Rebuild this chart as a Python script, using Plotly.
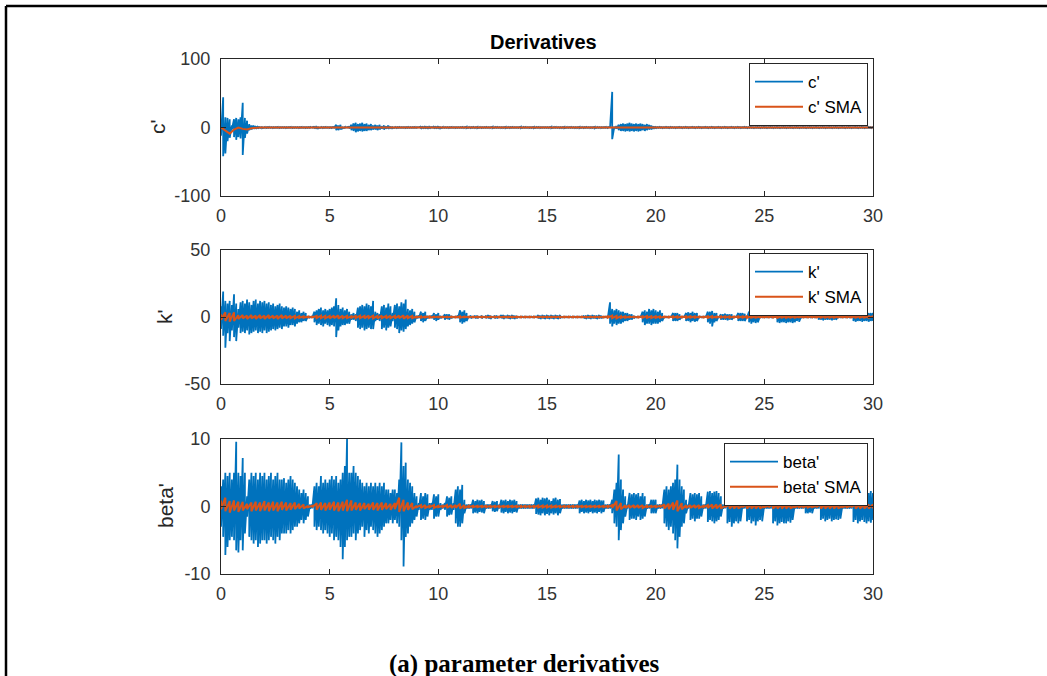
import numpy as np
import plotly.graph_objects as go

# ---- sample times -------------------------------------------------------
T_END = 30.0
N_FAST = 301   # raw derivative envelopes, 0.1 s step
N_SMA = 151    # moving-average envelopes, 0.2 s step

# ---- c' : upper / lower envelope of the raw derivative (0.1 s step) ----
c_up = [
    8, 44, 15, 14, 12, 3, 12, 14, 12, 15,
    36, 14, 10, 5, 3, 3, 2, 2, 1, 1,
    0.5, 0.4, 0.6, 0.5, 0.4, 0.5, 0.6, 0.4, 0.5, 0.5,
    0.4, 0.5, 0.6, 0.4, 0.5, 0.5, 0.4, 0.6, 0.5, 0.4,
    0.5, 0.6, 0.4, 1.5, 2, 1, 0.5, 0.4, 0.6, 0.5,
    0.4, 0.5, 1, 4, 3, 4, 1, 0.6, 0.5, 1.5,
    4, 6, 7, 5, 6, 7, 5, 6, 4, 5,
    3, 4, 3, 4, 2, 3, 2, 3, 1.5, 1,
    0.5, 0.4, 0.6, 0.5, 0.5, 0.4, 0.6, 0.5, 0.5, 0.6,
    0.5, 0.5, 2, 1.5, 2, 1.5, 2, 1, 2, 1.5,
    2, 1, 0.6, 0.5, 0.5, 0.4, 0.6, 0.5, 0.4, 0.5,
    0.5, 0.6, 0.4, 1, 0.5, 0.4, 0.6, 0.5, 1, 0.5,
    0.4, 0.5, 0.6, 0.5, 0.4, 1, 0.5, 0.6, 0.5, 0.4,
    0.5, 1, 0.5, 0.4, 0.6, 0.5, 0.5, 0.4, 1, 0.5,
    0.6, 0.5, 0.4, 0.5, 1, 0.5, 0.6, 0.4, 0.5, 0.5,
    0.5, 0.4, 1, 0.5, 0.6, 0.5, 0.4, 0.5, 1, 0.5,
    0.5, 0.6, 0.5, 0.4, 0.5, 1, 0.5, 0.4, 0.6, 0.5,
    0.4, 0.5, 1, 0.6, 0.5, 0.4, 0.5, 0.6, 0.5, 1,
    52, 1.5, 2, 4, 5, 6, 5, 6, 7, 6,
    5, 6, 5, 6, 5, 4, 5, 4, 3, 2,
    1.5, 1, 1.5, 1, 1, 1.5, 1, 1.5, 1, 1,
    1, 1.5, 1, 1, 1.5, 1, 1, 1.5, 1, 1,
    1.5, 1, 1, 1.5, 1, 1, 1.5, 1, 1, 1.5,
    1, 1, 1.5, 1, 1, 1.5, 1, 1, 1.5, 1,
    1, 1.5, 1, 1, 1.5, 1, 1, 1.5, 1, 1,
    1.5, 1, 1, 1.5, 1, 1, 1.5, 1, 1, 1.5,
    1, 1, 1.5, 1, 1, 1.5, 1, 1, 1.5, 1,
    1, 1.5, 1, 1, 1.5, 1, 1, 1.5, 1, 1,
    1.5, 1, 1, 1.5, 1, 1, 1.5, 1, 1, 1.5,
    1, 1, 1.5, 1, 1, 1.5, 1, 1, 1.5, 1,
    1,
]
c_lo = [
    -12, -42, -38, -20, -15, -3, -14, -18, -14, -16,
    -40, -15, -9, -4, -3, -2, -2, -1.5, -1, -1,
    -0.5, -0.6, -0.4, -0.5, -0.6, -0.5, -0.4, -0.6, -0.5, -0.5,
    -0.6, -0.5, -0.4, -0.6, -0.5, -0.5, -0.6, -0.4, -0.5, -0.6,
    -0.5, -0.4, -0.6, -1.5, -2, -1, -0.5, -0.6, -0.4, -0.5,
    -0.6, -0.5, -1, -4, -4, -3, -1, -0.4, -0.5, -1.5,
    -4, -5, -7, -6, -5, -6, -5, -5, -4, -4,
    -3, -3, -4, -3, -2, -3, -2, -2, -1.5, -1,
    -0.5, -0.6, -0.4, -0.5, -0.5, -0.6, -0.4, -0.5, -0.5, -0.4,
    -0.5, -0.5, -2, -1.5, -1.5, -2, -1.5, -1, -1.5, -1.5,
    -1.5, -1, -0.4, -0.5, -0.5, -0.6, -0.4, -0.5, -0.6, -0.5,
    -0.5, -0.4, -0.6, -1, -0.5, -0.6, -0.4, -0.5, -1, -0.5,
    -0.6, -0.5, -0.4, -0.5, -0.6, -1, -0.5, -0.4, -0.5, -0.6,
    -0.5, -1, -0.5, -0.6, -0.4, -0.5, -0.5, -0.6, -1, -0.5,
    -0.4, -0.5, -0.6, -0.5, -1, -0.5, -0.4, -0.6, -0.5, -0.5,
    -0.5, -0.6, -1, -0.5, -0.4, -0.5, -0.6, -0.5, -1, -0.5,
    -0.5, -0.4, -0.5, -0.6, -0.5, -1, -0.5, -0.6, -0.4, -0.5,
    -0.6, -0.5, -1, -0.4, -0.5, -0.6, -0.5, -0.4, -0.5, -1,
    -17, -1.5, -2, -4, -5, -5, -6, -5, -6, -5,
    -6, -5, -6, -5, -4, -5, -4, -3, -3, -2,
    -1.5, -1, -1, -1.5, -1, -1, -1.5, -1, -1, -1.5,
    -1, -1, -1.5, -1, -1, -1.5, -1, -1, -1.5, -1,
    -1, -1.5, -1, -1, -1.5, -1, -1, -1.5, -1, -1,
    -1.5, -1, -1, -1.5, -1, -1, -1.5, -1, -1, -1.5,
    -1, -1, -1.5, -1, -1, -1.5, -1, -1, -1.5, -1,
    -1, -1.5, -1, -1, -1.5, -1, -1, -1.5, -1, -1,
    -1.5, -1, -1, -1.5, -1, -1, -1.5, -1, -1, -1.5,
    -1, -1, -1.5, -1, -1, -1.5, -1, -1, -1.5, -1,
    -1, -1.5, -1, -1, -1.5, -1, -1, -1.5, -1, -1,
    -1.5, -1, -1, -1.5, -1, -1, -1.5, -1, -1, -1.5,
    -1,
]

# ---- k' : upper / lower envelope (0.1 s step) ---------------------------
k_up = [
    8, 19, 12, 10, 12, 9, 17, 10, 6, 11,
    12, 10, 13, 11, 9, 12, 13, 10, 12, 11,
    12, 10, 11, 9, 10, 8, 9, 10, 8, 7,
    8, 7, 6, 7, 6, 4, 5, 3, 4, 3,
    0.5, 0.6, 0.5, 4, 5, 6, 7, 5, 6, 5,
    6, 7, 8, 14, 9, 6, 7, 5, 6, 4,
    2, 3, 2, 7, 8, 9, 8, 10, 9, 8,
    12, 4, 3, 2, 8, 9, 7, 10, 8, 3,
    9, 10, 8, 11, 10, 13, 6, 5, 6, 4,
    1, 1, 4, 3, 4, 1, 0.5, 1, 3, 2,
    3, 1, 0.5, 2, 2, 2, 1, 0.5, 0.5, 1,
    5, 4, 5, 3, 0.5, 1, 0.5, 1, 1, 0.5,
    1, 0.5, 1, 1.5, 1, 0.5, 1, 1, 0.5, 1.5,
    1.5, 1, 1.5, 1, 1.5, 1, 1, 0.5, 0.5, 0.5,
    0.5, 0.5, 0.5, 0.5, 0.5, 0.5, 1.5, 1, 1.5, 1,
    1.5, 1, 1.5, 1, 1.5, 1, 1.5, 0.5, 0.5, 0.5,
    0.5, 0.5, 0.5, 0.5, 0.5, 0.5, 0.5, 1, 1, 1.5,
    1, 1.5, 1, 1, 1.5, 1, 0.5, 0.5, 0.5, 11,
    6, 5, 6, 5, 4, 4, 3, 3, 2, 2,
    1, 0.5, 0.5, 0.5, 4, 5, 4, 6, 5, 6,
    5, 4, 5, 3, 0.5, 0.5, 0.5, 0.5, 3, 3,
    3, 2, 0.5, 0.5, 3, 3.5, 3, 4, 3, 3,
    0.5, 0.5, 0.5, 0.5, 4, 4, 4.5, 3, 3, 0.5,
    2, 2, 2.5, 2, 2, 2, 0.5, 0.5, 3, 3,
    3, 2.5, 0.5, 4, 4, 4.5, 4, 4, 0.5, 0.5,
    0.5, 0.5, 0.5, 0.5, 0.5, 0.5, 4, 4, 4.5, 4,
    4, 4.5, 4, 4, 3.5, 3, 4, 0.5, 0.5, 0.5,
    0.5, 0.5, 0.5, 0.5, 0.5, 2, 2.5, 2, 2, 2,
    2.5, 2, 2, 2, 0.5, 0.5, 0.5, 0.5, 0.5, 0.5,
    0.5, 3, 3, 3.5, 3, 3, 3.5, 3, 3, 3,
    3,
]
k_lo = [
    -9, -14, -23, -12, -18, -10, -15, -18, -8, -12,
    -11, -12, -10, -13, -12, -11, -10, -12, -11, -12,
    -10, -12, -11, -10, -9, -10, -9, -8, -9, -7,
    -7, -8, -6, -6, -7, -5, -4, -4, -3, -3,
    -0.5, -0.4, -0.5, -4, -6, -5, -6, -7, -5, -6,
    -7, -6, -7, -15, -10, -7, -6, -6, -5, -5,
    -2, -2, -3, -8, -9, -8, -10, -9, -8, -9,
    -9, -3, -2, -3, -9, -8, -10, -8, -7, -3,
    -8, -9, -12, -10, -11, -9, -7, -6, -5, -4,
    -1, -1, -3, -4, -3, -1, -0.5, -1, -2, -3,
    -2, -1, -0.5, -2, -1.5, -2, -1, -0.5, -0.5, -1,
    -4, -5, -4, -3, -0.5, -1, -0.5, -1, -1, -0.5,
    -1, -0.5, -1, -1, -1.5, -0.5, -1, -1, -0.5, -1,
    -1.5, -1, -1, -1.5, -1, -1.5, -1, -0.5, -0.5, -0.5,
    -0.5, -0.5, -0.5, -0.5, -0.5, -0.5, -1, -1.5, -1, -1.5,
    -1, -1.5, -1, -1.5, -1, -1.5, -1, -0.5, -0.5, -0.5,
    -0.5, -0.5, -0.5, -0.5, -0.5, -0.5, -0.5, -1, -1.5, -1,
    -1.5, -1, -1, -1.5, -1, -1, -0.5, -0.5, -0.5, -5,
    -7, -5, -6, -5, -5, -4, -3, -3, -2, -2,
    -1, -0.5, -0.5, -0.5, -4, -6, -5, -5, -6, -5,
    -5, -5, -4, -3, -0.5, -0.5, -0.5, -0.5, -3, -3,
    -3, -2, -0.5, -0.5, -3, -3, -4, -3, -3.5, -3,
    -0.5, -0.5, -0.5, -0.5, -4, -5, -7, -4, -3, -0.5,
    -2, -2, -2, -2.5, -2, -2, -0.5, -0.5, -3, -3,
    -3, -3, -0.5, -4, -5, -4, -4.5, -4, -0.5, -0.5,
    -0.5, -0.5, -0.5, -0.5, -0.5, -0.5, -4, -4.5, -4, -4,
    -4.5, -4, -4, -4.5, -4, -3, -3.5, -0.5, -0.5, -0.5,
    -0.5, -0.5, -0.5, -0.5, -0.5, -2, -2, -2.5, -2, -2,
    -2, -2.5, -2, -2, -0.5, -0.5, -0.5, -0.5, -0.5, -0.5,
    -0.5, -3, -3.5, -3, -3, -3.5, -3, -3, -3.5, -3,
    -3,
]

# ---- beta' : upper / lower envelope (0.1 s step) ------------------------
b_up = [
    3, 4, 5, 4.5, 5, 4, 5, 9.6, 5, 4.5,
    7.2, 5, 1.5, 4, 5, 4.5, 5, 4, 5, 4.5,
    5, 4, 4.5, 5, 4, 4.5, 5, 4, 4, 4.2,
    3.5, 4, 4.5, 4, 3.5, 3, 2.5, 2, 2.5, 2,
    1.5, 0.3, 0.3, 3, 3.5, 3, 4.5, 3.5, 4, 3.5,
    4, 4.5, 4, 4.5, 3.5, 4, 5, 6, 10, 5,
    5, 6, 5, 4.5, 4, 3.5, 3, 3.5, 3, 3.5,
    3, 3.5, 3, 3.5, 3, 3.5, 2.5, 2.5, 2, 2.5,
    2.5, 2, 4, 9.5, 6, 6.5, 4, 3.5, 3, 2,
    1.5, 0.5, 2, 1.5, 2, 1.8, 0.5, 0.5, 1.8, 1.5,
    1.8, 0.5, 0.3, 0.5, 1.5, 1.3, 1.5, 0.5, 2.5, 3,
    2.5, 3.2, 1, 0.3, 0.3, 0.3, 1, 0.8, 1, 0.9,
    1, 0.8, 0.3, 0.3, 0.3, 0.8, 0.7, 0.8, 0.3, 1,
    0.9, 1, 0.8, 1, 0.9, 1, 0.8, 0.3, 0.3, 0.3,
    0.3, 0.3, 0.3, 0.3, 0.3, 1.2, 1.3, 1, 1.3, 1.2,
    1.3, 1, 0.8, 1.2, 1.3, 1, 1.1, 0.3, 0.3, 0.3,
    0.3, 0.3, 0.3, 0.3, 0.3, 0.9, 1, 0.8, 1, 0.9,
    1, 0.8, 1, 0.9, 1, 0.9, 0.9, 0.3, 0.3, 0.3,
    1, 2.5, 3.5, 7.7, 4, 2.5, 1.5, 0.3, 2, 1.8,
    2, 1.8, 2, 1.5, 2, 1.5, 0.3, 0.3, 1, 1,
    1, 0.3, 0.3, 0.3, 2.5, 3, 2.5, 3, 3.5, 4,
    6.2, 4, 3, 2.5, 1, 0.3, 2, 1.8, 2, 1.8,
    2, 1.5, 0.3, 0.3, 2.2, 2.3, 2, 2.2, 2.3, 2,
    1.5, 0.3, 0.3, 2.5, 2.2, 2.5, 2, 2.4, 2.5, 2.2,
    0.3, 0.3, 2, 2.2, 2, 2.2, 2.1, 2, 2.2, 2,
    0.3, 0.3, 0.3, 0.3, 2.3, 2.5, 2.2, 2.5, 2.4, 2.5,
    2.2, 2.5, 2.3, 2.2, 0.3, 0.3, 0.3, 0.3, 0.3, 1,
    1, 1, 0.9, 0.3, 0.3, 0.3, 1.8, 2, 1.8, 2,
    2, 1.9, 2, 1.8, 2, 2, 0.3, 0.3, 0.3, 0.3,
    0.3, 2, 2.2, 2.3, 2, 2.2, 2.3, 2.2, 2, 2.3,
    2,
]
b_lo = [
    -3, -4.5, -7.2, -6, -5, -4.5, -5, -6.5, -6.8, -5,
    -6.5, -4, -1.5, -4.5, -5, -5.5, -5, -6, -5.5, -5,
    -5, -5.5, -5, -4.5, -5, -5.5, -4.5, -5, -4, -4,
    -4, -3.5, -4, -3.5, -3, -3, -2.5, -2, -2.5, -2,
    -1.5, -0.3, -0.3, -3, -3.5, -3, -3.5, -4, -3.5, -4,
    -4.5, -4, -5, -4.5, -5, -6, -7.8, -6, -5, -4.5,
    -4.5, -4, -5, -4, -3.5, -3, -4.5, -3.5, -4, -3,
    -3.5, -4, -4.5, -4, -3.5, -3, -2.5, -2.5, -2, -2.5,
    -2, -2.5, -3, -5, -8.9, -4.5, -4, -3, -2.5, -2,
    -1.5, -0.5, -2, -1.8, -2, -1.5, -0.5, -0.5, -1.8, -1.5,
    -1.5, -0.5, -0.3, -0.5, -1.5, -1.3, -1.2, -0.5, -2.5, -3,
    -3, -2.5, -1, -0.3, -0.3, -0.3, -1, -0.9, -1, -0.8,
    -0.9, -1, -0.3, -0.3, -0.3, -0.7, -0.8, -0.7, -0.3, -0.9,
    -1, -0.8, -1, -0.9, -1, -0.8, -0.9, -0.3, -0.3, -0.3,
    -0.3, -0.3, -0.3, -0.3, -0.3, -1.1, -1.2, -1.3, -1, -1.3,
    -1.1, -1.3, -1, -1.2, -1, -1.3, -1, -0.3, -0.3, -0.3,
    -0.3, -0.3, -0.3, -0.3, -0.3, -1, -0.8, -1, -0.9, -1,
    -0.8, -1, -0.9, -1, -0.8, -1, -0.8, -0.3, -0.3, -0.3,
    -1, -2.5, -3, -5, -3.5, -2.5, -1.5, -0.3, -2, -1.8,
    -1.8, -2, -1.5, -2, -1.8, -1.5, -0.3, -0.3, -1, -1,
    -1, -0.3, -0.3, -0.3, -2.5, -3, -3.5, -3, -4, -5,
    -6.2, -4.5, -3, -2.5, -1, -0.3, -2, -1.8, -2.2, -1.8,
    -1.8, -1.5, -0.3, -0.3, -2.3, -2, -2.2, -2.5, -2.2, -2,
    -1.5, -0.3, -0.3, -2.5, -2.3, -3, -2.5, -2.2, -2.5, -2.2,
    -0.3, -0.3, -2.2, -2, -2.5, -2.2, -2.8, -2.2, -2, -2.2,
    -0.3, -0.3, -0.3, -0.3, -2.5, -2.2, -2.8, -2.5, -2.3, -2.5,
    -2.5, -2.2, -2.4, -2, -0.3, -0.3, -0.3, -0.3, -0.3, -1,
    -1, -0.9, -1, -0.3, -0.3, -0.3, -2, -1.8, -2.2, -2,
    -1.8, -2.2, -2, -1.9, -2, -1.8, -0.3, -0.3, -0.3, -0.3,
    -0.3, -2.3, -2, -2.5, -2.2, -2, -2.3, -2.5, -2.2, -2.4,
    -2,
]

# ---- simple moving averages (0.2 s step) --------------------------------
c_sma = [
    0, -5, -9, -3, 0,
    -2, -3, -1, 0, 0,
    0, 0, 0, 0, 0,
    0, 0, 0, 0, 0,
    0, 0, 0, 0, 0,
    0, 0, 0, 0, 0,
    0, 0, 0, 0, 0,
    0, 0, 0, 0, 0,
    0, 0, 0, 0, 0,
    0, 0, 0, 0, 0,
    0, 0, 0, 0, 0,
    0, 0, 0, 0, 0,
    0, 0, 0, 0, 0,
    0, 0, 0, 0, 0,
    0, 0, 0, 0, 0,
    0, 0, 0, 0, 0,
    0, 0, 0, 0, 0,
    0, 0, 0, 0, 0,
    0, 0, 0, 0, 0,
    0, 0, 0, 0, 0,
    0, 0, 0, 0, 0,
    0, 0, 0, 0, 0,
    0, 0, 0, 0, 0,
    0, 0, 0, 0, 0,
    0, 0, 0, 0, 0,
    0, 0, 0, 0, 0,
    0, 0, 0, 0, 0,
    0, 0, 0, 0, 0,
    0, 0, 0, 0, 0,
    0, 0, 0, 0, 0,
    0,
]
k_sma_up = [
    2, 3.5, 3, 3.5, 1.5,
    1.5, 1, 1.5, 1, 1.5,
    1, 1.5, 1, 1, 1.5,
    1, 1, 0.8, 0.6, 0.5,
    0.3, 0.3, 0.8, 1, 0.8,
    0.8, 1, 1.2, 1, 0.8,
    0.5, 0.8, 1, 0.8, 1,
    1, 0.8, 1, 0.8, 1,
    0.8, 1, 1.2, 1, 0.8,
    0.3, 0.5, 0.3, 0.5, 0.3,
    0.3, 0.3, 0.3, 0.3, 0.3,
    0.5, 0.3, 0.3, 0.3, 0.3,
    0.3, 0.3, 0.3, 0.3, 0.3,
    0.3, 0.3, 0.3, 0.3, 0.3,
    0.3, 0.3, 0.3, 0.3, 0.3,
    0.3, 0.3, 0.3, 0.3, 0.3,
    0.3, 0.3, 0.3, 0.3, 0.3,
    0.3, 0.3, 0.3, 0.3, 0.5,
    1, 0.8, 0.6, 0.5, 0.3,
    0.3, 0.3, 0.6, 0.8, 0.6,
    0.6, 0.5, 0.3, 0.3, 0.5,
    0.5, 0.3, 0.5, 0.6, 0.5,
    0.3, 0.3, 0.6, 0.6, 0.3,
    0.5, 0.5, 0.5, 0.3, 0.5,
    0.5, 0.6, 0.6, 0.6, 0.3,
    0.3, 0.3, 0.3, 0.6, 0.6,
    0.6, 0.6, 0.5, 0.3, 0.3,
    0.3, 0.3, 0.3, 0.5, 0.5,
    0.5, 0.5, 0.3, 0.3, 0.3,
    0.3, 0.5, 0.5, 0.5, 0.5,
    0.5,
]
k_sma_lo = [
    -2, -3, -3.5, -3, -1.5,
    -1, -1.5, -1, -1.5, -1,
    -1.5, -1, -1, -1.5, -1,
    -1, -0.8, -1, -0.6, -0.5,
    -0.3, -0.3, -0.8, -0.8, -1,
    -1, -0.8, -1.2, -0.8, -0.8,
    -0.5, -0.8, -0.8, -1, -0.8,
    -1, -1, -0.8, -1, -0.8,
    -1, -0.8, -1.2, -0.8, -0.8,
    -0.3, -0.5, -0.3, -0.5, -0.3,
    -0.3, -0.3, -0.3, -0.3, -0.3,
    -0.5, -0.3, -0.3, -0.3, -0.3,
    -0.3, -0.3, -0.3, -0.3, -0.3,
    -0.3, -0.3, -0.3, -0.3, -0.3,
    -0.3, -0.3, -0.3, -0.3, -0.3,
    -0.3, -0.3, -0.3, -0.3, -0.3,
    -0.3, -0.3, -0.3, -0.3, -0.3,
    -0.3, -0.3, -0.3, -0.3, -0.5,
    -0.8, -1, -0.6, -0.5, -0.3,
    -0.3, -0.3, -0.6, -0.6, -0.8,
    -0.6, -0.5, -0.3, -0.3, -0.5,
    -0.5, -0.3, -0.6, -0.5, -0.5,
    -0.3, -0.3, -0.6, -0.5, -0.3,
    -0.5, -0.5, -0.5, -0.3, -0.5,
    -0.5, -0.6, -0.5, -0.6, -0.3,
    -0.3, -0.3, -0.3, -0.6, -0.5,
    -0.6, -0.5, -0.6, -0.3, -0.3,
    -0.3, -0.3, -0.3, -0.5, -0.5,
    -0.5, -0.5, -0.3, -0.3, -0.3,
    -0.3, -0.5, -0.5, -0.5, -0.5,
    -0.5,
]
b_sma_up = [
    0.9, 1.3, 0.8, 0.9, 0.7,
    0.7, 0.4, 0.6, 0.7, 0.6,
    0.8, 0.6, 0.7, 0.6, 0.7,
    0.6, 0.5, 0.6, 0.4, 0.3,
    0.1, 0.1, 0.5, 0.6, 0.5,
    0.6, 0.7, 0.6, 0.7, 1.0,
    0.9, 0.6, 0.5, 0.5, 0.4,
    0.6, 0.5, 0.6, 0.5, 0.4,
    0.5, 1.3, 1.0, 0.6, 0.5,
    0.1, 0.2, 0.2, 0.1, 0.2,
    0.1, 0.1, 0.2, 0.2, 0.2,
    0.4, 0.2, 0.1, 0.1, 0.1,
    0.1, 0.1, 0.1, 0.1, 0.1,
    0.1, 0.1, 0.1, 0.1, 0.1,
    0.1, 0.1, 0.1, 0.15, 0.15,
    0.15, 0.15, 0.1, 0.1, 0.1,
    0.1, 0.1, 0.1, 0.1, 0.1,
    0.1, 0.1, 0.1, 0.1, 0.1,
    0.2, 0.8, 0.5, 0.2, 0.2,
    0.2, 0.2, 0.2, 0.1, 0.1,
    0.1, 0.1, 0.3, 0.4, 0.6,
    0.9, 0.5, 0.2, 0.2, 0.2,
    0.2, 0.1, 0.2, 0.3, 0.3,
    0.3, 0.1, 0.3, 0.3, 0.3,
    0.1, 0.3, 0.3, 0.3, 0.3,
    0.1, 0.1, 0.3, 0.3, 0.3,
    0.3, 0.3, 0.1, 0.1, 0.1,
    0.15, 0.1, 0.1, 0.3, 0.3,
    0.3, 0.3, 0.3, 0.1, 0.1,
    0.1, 0.3, 0.3, 0.3, 0.3,
    0.3,
]
b_sma_lo = [
    -0.4, -0.7, -0.9, -0.6, -0.8,
    -0.6, -0.4, -0.7, -0.6, -0.7,
    -0.6, -0.7, -0.6, -0.7, -0.5,
    -0.6, -0.5, -0.4, -0.3, -0.3,
    -0.1, -0.1, -0.5, -0.5, -0.6,
    -0.5, -0.6, -0.7, -0.6, -0.7,
    -0.6, -0.5, -0.6, -0.4, -0.5,
    -0.5, -0.6, -0.5, -0.4, -0.5,
    -0.4, -0.8, -0.7, -0.5, -0.4,
    -0.1, -0.2, -0.2, -0.1, -0.2,
    -0.1, -0.1, -0.2, -0.2, -0.2,
    -0.3, -0.2, -0.1, -0.1, -0.1,
    -0.1, -0.1, -0.1, -0.1, -0.1,
    -0.1, -0.1, -0.1, -0.1, -0.1,
    -0.1, -0.1, -0.1, -0.15, -0.15,
    -0.15, -0.15, -0.1, -0.1, -0.1,
    -0.1, -0.1, -0.1, -0.1, -0.1,
    -0.1, -0.1, -0.1, -0.1, -0.1,
    -0.2, -0.6, -0.4, -0.2, -0.2,
    -0.2, -0.2, -0.2, -0.1, -0.1,
    -0.1, -0.1, -0.3, -0.4, -0.5,
    -0.7, -0.4, -0.2, -0.2, -0.2,
    -0.2, -0.1, -0.2, -0.3, -0.3,
    -0.3, -0.1, -0.3, -0.3, -0.3,
    -0.1, -0.3, -0.3, -0.3, -0.3,
    -0.1, -0.1, -0.3, -0.3, -0.3,
    -0.3, -0.3, -0.1, -0.1, -0.1,
    -0.15, -0.1, -0.1, -0.3, -0.3,
    -0.3, -0.3, -0.3, -0.1, -0.1,
    -0.1, -0.3, -0.3, -0.3, -0.3,
    -0.3,
]

# ---- axis / label text --------------------------------------------------
panel_names = ["c'", "k'", "beta'"]
y_limits = [(-100, 100), (-50, 50), (-10, 10)]
y_ticks = [[-100, 0, 100], [-50, 0, 50], [-10, 0, 10]]
y_ticktext = [["-100", "0", "100"], ["-50", "0", "50"], ["-10", "0", "10"]]
x_ticks = [0, 5, 10, 15, 20, 25, 30]
x_ticktext = ["0", "5", "10", "15", "20", "25", "30"]
fig_title = "Derivatives"
caption = "(a) parameter derivatives"

BLUE = "#0072BD"
ORANGE = "#D95319"
AXC = "#262626"
SANS = "Liberation Sans, Arial, sans-serif"

W, H = 1047, 676
t_fast = np.linspace(0, T_END, N_FAST)
t_sma = np.linspace(0, T_END, N_SMA)


def band_xy(t, up, lo):
    """Stroke between the upper and lower value at every sample."""
    x = np.repeat(t, 2)
    y = np.column_stack([np.asarray(up, float), np.asarray(lo, float)]).ravel()
    return x, y


def px_x(p):
    return p / W


def px_y(p):
    return 1 - p / H


# plot-area rectangles (pixels): left, right, top, bottom
x_left, x_right = 221, 873
rows_px = [(59, 196), (250, 384), (439, 574)]

fig = go.Figure()

raw = [(c_up, c_lo), (k_up, k_lo), (b_up, b_lo)]
sma = [(c_sma, c_sma), (k_sma_up, k_sma_lo), (b_sma_up, b_sma_lo)]
legend_ids = ["legend", "legend2", "legend3"]

for i, name in enumerate(panel_names):
    ax = "" if i == 0 else str(i + 1)
    xr, yr = "x" + ax, "y" + ax
    bx, by = band_xy(t_fast, *raw[i])
    fig.add_trace(go.Scatter(
        x=bx, y=by, mode="lines", name=name,
        line=dict(color=BLUE, width=1.8),
        xaxis=xr, yaxis=yr, legend=legend_ids[i]))
    if i == 0:
        sx, sy = t_sma, np.asarray(c_sma, float)
    else:
        sx, sy = band_xy(t_sma, *sma[i])
    fig.add_trace(go.Scatter(
        x=sx, y=sy, mode="lines", name=name + " SMA",
        line=dict(color=ORANGE, width=2),
        xaxis=xr, yaxis=yr, legend=legend_ids[i]))

layout = dict(
    width=W, height=H, autosize=False,
    margin=dict(l=0, r=0, t=0, b=0),
    paper_bgcolor="white", plot_bgcolor="white",
    font=dict(family=SANS, color=AXC),
    showlegend=True,
)

common_axis = dict(
    showline=True, linecolor=AXC, linewidth=1, mirror="ticks",
    ticks="inside", ticklen=5, tickcolor=AXC, tickwidth=1,
    showgrid=False, zeroline=False, automargin=False,
    tickfont=dict(size=18, color="#333333", family=SANS),
)

for i in range(3):
    ax = "" if i == 0 else str(i + 1)
    top, bot = rows_px[i]
    layout["xaxis" + ax] = dict(
        common_axis, domain=[px_x(x_left), px_x(x_right)],
        range=[0, T_END], tickvals=x_ticks, ticktext=x_ticktext,
        anchor="y" + ax, ticklabelstandoff=3)
    layout["yaxis" + ax] = dict(
        common_axis, domain=[px_y(bot), px_y(top)],
        range=list(y_limits[i]), tickvals=y_ticks[i], ticktext=y_ticktext[i],
        anchor="x" + ax, ticklabelstandoff=6)

# legends, one per panel, boxed at the upper right
legend_boxes = [(868, 63), (868, 253), (868, 443)]
for i, lid in enumerate(legend_ids):
    rx, ty = legend_boxes[i]
    layout[lid] = dict(
        x=px_x(rx), y=px_y(ty), xanchor="right", yanchor="top",
        bgcolor="white", bordercolor="#262626", borderwidth=1,
        font=dict(size=17, color="black", family=SANS),
        tracegroupgap=0, itemwidth=48,
    )

fig.update_layout(**layout)

annotations = [
    dict(text="<b>%s</b>" % fig_title, x=px_x(543), y=px_y(42),
         font=dict(size=20, color="black")),
    dict(text="<b>%s</b>" % caption, x=px_x(524), y=px_y(664),
         font=dict(size=25, color="black",
                   family="Liberation Serif, Times New Roman, serif")),
]
label_centers = [(157, 127), (164, 317), (165, 506)]
for name, (lx, ly) in zip(panel_names, label_centers):
    annotations.append(dict(text=name, x=px_x(lx), y=px_y(ly), textangle=-90,
                            font=dict(size=21, color=AXC)))
for a in annotations:
    a.update(xref="paper", yref="paper", showarrow=False,
             xanchor="center", yanchor="middle")
fig.update_layout(annotations=annotations)

# outer frame line along the top and left edge
fig.update_layout(shapes=[
    dict(type="line", xref="paper", yref="paper",
         x0=px_x(6), x1=1.0, y0=px_y(6), y1=px_y(6),
         line=dict(color="black", width=2.5)),
    dict(type="line", xref="paper", yref="paper",
         x0=px_x(6), x1=px_x(6), y0=px_y(6), y1=0.0,
         line=dict(color="black", width=2.5)),
])

fig.write_html("out.html")
